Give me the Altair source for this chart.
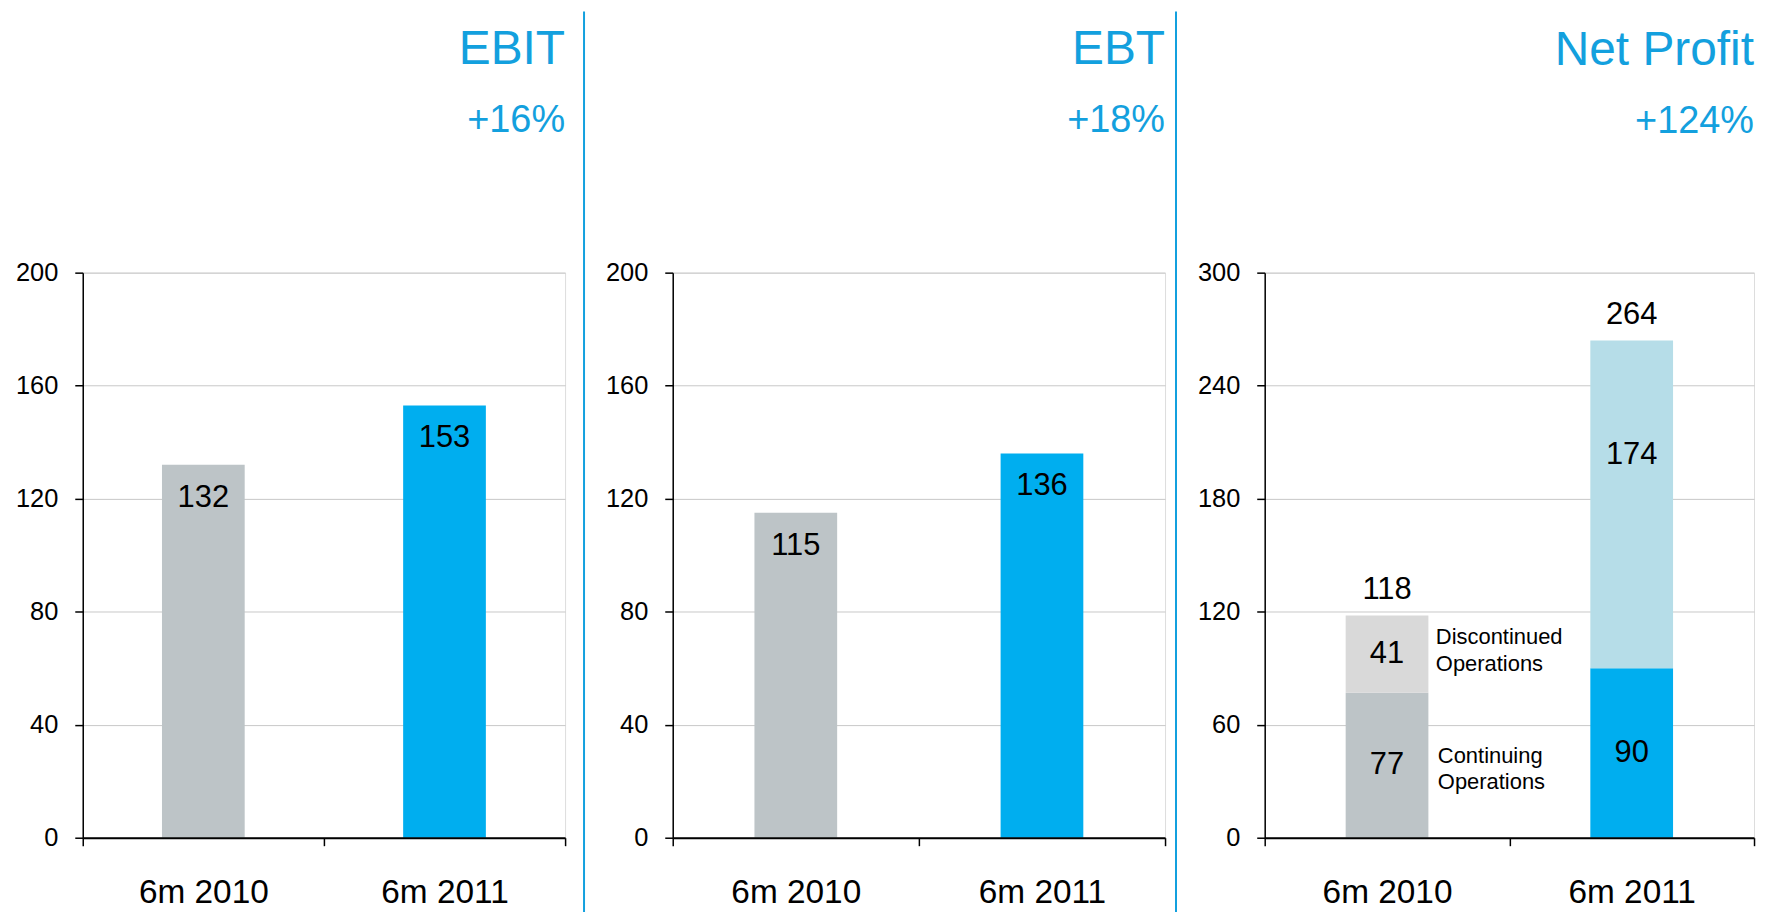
import altair as alt
import pandas as pd

# ---------------- data ----------------
periods = ["6m 2010", "6m 2011"]
ebit_values = [132, 153]
ebt_values = [115, 136]
np_continuing = [77, 90]
np_discontinued = [41, 174]
np_totals = [118, 264]
titles = ["EBIT", "EBT", "Net Profit"]
growth = ["+16%", "+18%", "+124%"]
segment_names = ["Continuing Operations", "Discontinued Operations"]
ticks_200 = [0, 40, 80, 120, 160, 200]
ticks_300 = [0, 60, 120, 180, 240, 300]

# ---------------- style ----------------
FONT = "Liberation Sans"
BLUE_TITLE = "#13A0DE"
GRAY = "#BDC4C7"
BLUE = "#00AEEF"
LIGHT_GRAY = "#D9D9D9"
LIGHT_BLUE = "#B6DDE8"
H = 567


def x_enc():
    return alt.X(
        "period:N", sort=periods, title=None,
        scale=alt.Scale(domain=periods, paddingInner=0, paddingOuter=0),
        axis=alt.Axis(labelAngle=0, labelFontSize=33.5, labelPadding=31, labelFont=FONT,
                      labelColor="black", tickBand="extent", tickSize=8, tickWidth=1.5,
                      tickColor="black", domainColor="black", domainWidth=2,
                      grid=False, zindex=1),
    )


def y_enc(field, ticks):
    return alt.Y(
        field, title=None,
        scale=alt.Scale(domain=[ticks[0], ticks[-1]], nice=False, zero=True),
        axis=alt.Axis(values=ticks, labelFontSize=25.5, labelPadding=17, labelFont=FONT,
                      labelColor="black", tickSize=8, tickWidth=1.5, tickColor="black",
                      domainColor="black", domainWidth=1.5, gridColor="#C8C8C8",
                      gridWidth=1),
    )


def title_params(i, offset):
    return alt.TitleParams(
        text=titles[i], subtitle=growth[i], anchor="end", frame="group", orient="top",
        fontSize=48, subtitleFontSize=38, font=FONT, subtitleFont=FONT,
        fontWeight="normal", subtitleFontWeight="normal",
        color=BLUE_TITLE, subtitleColor=BLUE_TITLE, subtitlePadding=28, offset=offset,
    )


def divider(w, dx):
    return alt.Chart(pd.DataFrame({"d": [0]})).mark_rule(
        color=BLUE_TITLE, strokeWidth=2
    ).encode(x=alt.value(w + dx), y=alt.value(-262), y2=alt.value(645))


def simple_panel(values, i, w, dx):
    df = pd.DataFrame({"period": periods, "value": values})
    base = alt.Chart(df)
    bars = base.mark_bar(size=83).encode(
        x=x_enc(),
        y=y_enc("value:Q", ticks_200),
        color=alt.Color("period:N", scale=alt.Scale(domain=periods, range=[GRAY, BLUE]),
                        legend=None),
    )
    text = base.mark_text(baseline="top", dy=18, fontSize=31, font=FONT,
                          color="black").encode(
        x=alt.X("period:N", sort=periods), y="value:Q", text="value:Q"
    )
    return alt.layer(bars, text, divider(w, dx)).properties(
        width=w, height=H, title=title_params(i, -130)
    )


p1 = simple_panel(ebit_values, 0, 484, 19)
p2 = simple_panel(ebt_values, 1, 494, 11)

# ---------------- net profit ----------------
np_df = pd.DataFrame({
    "period": periods * 2,
    "segment": [segment_names[0]] * 2 + [segment_names[1]] * 2,
    "value": np_continuing + np_discontinued,
})
keys = [f"{p}|{s}" for s in segment_names for p in periods]

np_base = (
    alt.Chart(np_df)
    .transform_calculate(
        ord=f"datum.segment == '{segment_names[0]}' ? 0 : 1",
        key="datum.period + '|' + datum.segment",
    )
    .transform_stack(stack="value", as_=["lo", "hi"], groupby=["period"],
                     sort=[alt.SortField("ord", order="ascending")])
    .transform_calculate(mid="(datum.lo + datum.hi) / 2")
)

np_bars = np_base.mark_bar(size=83).encode(
    x=x_enc(),
    y=y_enc("lo:Q", ticks_300),
    y2="hi:Q",
    color=alt.Color("key:N", scale=alt.Scale(domain=keys,
                                             range=[GRAY, BLUE, LIGHT_GRAY, LIGHT_BLUE]),
                    legend=None),
)

is_top_2011 = f"datum.period == '{periods[1]}' && datum.segment == '{segment_names[1]}'"
seg_text = np_base.transform_filter(f"!({is_top_2011})").mark_text(
    baseline="middle", fontSize=31, font=FONT, color="black"
).encode(x=alt.X("period:N", sort=periods), y="mid:Q", text="value:Q")

seg_text_top = np_base.transform_filter(is_top_2011).mark_text(
    baseline="middle", dy=-49, fontSize=31, font=FONT, color="black"
).encode(x=alt.X("period:N", sort=periods), y="mid:Q", text="value:Q")

first_cont = f"datum.period == '{periods[0]}' && datum.segment == '{segment_names[0]}'"
first_disc = f"datum.period == '{periods[0]}' && datum.segment == '{segment_names[1]}'"

annot_disc = np_base.transform_filter(first_disc).mark_text(
    align="left", baseline="middle", dx=49, dy=-17, fontSize=22, font=FONT, color="black",
    lineBreak=" ", lineHeight=27
).encode(x=alt.X("period:N", sort=periods), y="mid:Q", text="segment:N")

annot_cont = np_base.transform_filter(first_cont).mark_text(
    align="left", baseline="middle", dx=51, dy=-9, fontSize=22, font=FONT, color="black",
    lineBreak=" ", lineHeight=26
).encode(x=alt.X("period:N", sort=periods), y="mid:Q", text="segment:N")

totals = alt.Chart(pd.DataFrame({"period": periods, "total": np_totals})).mark_text(
    baseline="alphabetic", dy=-17, fontSize=31, font=FONT, color="black"
).encode(x=alt.X("period:N", sort=periods), y="total:Q", text="total:Q")

p3 = alt.layer(np_bars, seg_text, seg_text_top, annot_disc, annot_cont, totals).properties(
    width=491, height=H, title=title_params(2, 120)
)

chart = (
    alt.hconcat(p1, p2, p3, spacing=18)
    .resolve_scale(color="independent")
    .properties(padding={"left": 6, "top": 0, "right": 5, "bottom": 0})
    .configure_view(stroke="#8C8C8C", strokeWidth=1)
    .configure(font=FONT)
)

chart.save("out.html", embed_options={"renderer": "svg", "actions": False})
